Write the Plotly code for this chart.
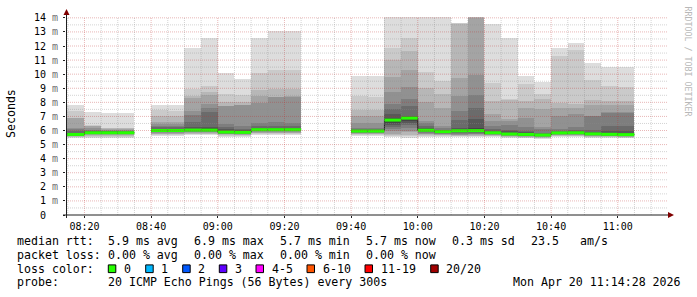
import plotly.graph_objects as go
import pandas as pd

DAY = "2026-04-20"
bin_start = ["08:10", "08:15", "08:20", "08:25", "08:30", "08:40", "08:45", "08:50",
             "08:55", "09:00", "09:05", "09:10", "09:15", "09:20", "09:40", "09:45",
             "09:50", "09:55", "10:00", "10:05", "10:10", "10:15", "10:20", "10:25",
             "10:30", "10:35", "10:40", "10:45", "10:50", "10:55", "11:00"]

# 20 sorted ping RTTs (ms) per 5-minute bin
ping_01 = [5.48, 5.48, 5.50, 5.50, 5.50, 5.62, 5.62, 5.65, 5.65, 5.57, 5.55, 5.68, 5.68, 5.68, 5.62, 5.62, 5.52, 5.47, 5.55, 5.56, 5.54, 5.54, 5.55, 5.50, 5.46, 5.43, 5.53, 5.53, 5.49, 5.47, 5.46]
ping_02 = [5.53, 5.53, 5.56, 5.56, 5.56, 5.68, 5.68, 5.72, 5.72, 5.63, 5.61, 5.75, 5.75, 5.75, 5.68, 5.68, 5.58, 5.58, 5.60, 5.61, 5.58, 5.58, 5.59, 5.53, 5.50, 5.47, 5.58, 5.58, 5.53, 5.51, 5.50]
ping_03 = [5.57, 5.57, 5.62, 5.62, 5.62, 5.73, 5.73, 5.77, 5.77, 5.68, 5.66, 5.80, 5.80, 5.80, 5.73, 5.73, 5.65, 5.70, 5.66, 5.66, 5.62, 5.63, 5.63, 5.57, 5.54, 5.50, 5.62, 5.62, 5.57, 5.55, 5.54]
ping_04 = [5.60, 5.60, 5.68, 5.68, 5.68, 5.78, 5.78, 5.82, 5.82, 5.72, 5.70, 5.85, 5.85, 5.85, 5.78, 5.78, 5.75, 5.87, 5.72, 5.70, 5.66, 5.68, 5.66, 5.60, 5.57, 5.53, 5.66, 5.66, 5.60, 5.58, 5.57]
ping_05 = [5.62, 5.62, 5.72, 5.72, 5.72, 5.82, 5.82, 5.86, 5.86, 5.75, 5.73, 5.89, 5.89, 5.89, 5.82, 5.82, 5.95, 6.00, 5.78, 5.74, 5.70, 5.73, 5.69, 5.63, 5.60, 5.56, 5.69, 5.69, 5.63, 5.61, 5.60]
ping_06 = [5.64, 5.64, 5.75, 5.75, 5.75, 5.86, 5.86, 5.90, 5.90, 5.78, 5.76, 5.93, 5.93, 5.93, 5.85, 5.85, 6.10, 6.20, 5.83, 5.78, 5.75, 5.78, 5.72, 5.65, 5.62, 5.58, 5.72, 5.72, 5.66, 5.63, 5.62]
ping_07 = [5.66, 5.66, 5.78, 5.78, 5.78, 5.90, 5.90, 5.94, 5.94, 5.81, 5.79, 5.96, 5.96, 5.96, 5.88, 5.88, 6.25, 6.41, 5.88, 5.82, 5.80, 5.83, 5.75, 5.67, 5.64, 5.60, 5.75, 5.75, 5.68, 5.65, 5.64]
ping_08 = [5.68, 5.68, 5.80, 5.80, 5.80, 5.93, 5.93, 5.97, 5.97, 5.84, 5.82, 5.99, 5.99, 5.99, 5.91, 5.91, 6.41, 6.55, 5.93, 5.85, 5.86, 5.88, 5.78, 5.69, 5.66, 5.62, 5.77, 5.77, 5.70, 5.67, 5.66]
ping_09 = [5.70, 5.70, 5.82, 5.82, 5.82, 5.96, 5.96, 6.00, 6.00, 5.86, 5.84, 6.02, 6.02, 6.02, 5.93, 5.93, 6.55, 6.70, 5.97, 5.88, 5.92, 5.93, 5.80, 5.71, 5.68, 5.64, 5.79, 5.79, 5.72, 5.69, 5.68]
ping_10 = [5.72, 5.72, 5.84, 5.84, 5.84, 5.99, 5.99, 6.02, 6.02, 5.88, 5.86, 6.05, 6.05, 6.05, 5.95, 5.95, 6.70, 6.85, 6.00, 5.90, 5.96, 5.97, 5.82, 5.73, 5.70, 5.66, 5.81, 5.81, 5.74, 5.71, 5.70]
ping_11 = [5.76, 5.76, 5.87, 5.87, 5.86, 6.03, 6.03, 6.06, 6.07, 5.93, 5.90, 6.08, 6.08, 6.08, 5.97, 5.97, 6.78, 6.90, 6.04, 5.94, 6.00, 6.02, 5.86, 5.79, 5.75, 5.70, 5.85, 5.86, 5.79, 5.78, 5.77]
ping_12 = [5.80, 5.80, 5.90, 5.90, 5.89, 6.07, 6.07, 6.12, 6.15, 6.00, 5.96, 6.12, 6.12, 6.12, 6.00, 6.00, 6.90, 6.95, 6.08, 5.96, 6.05, 6.15, 5.90, 5.85, 5.80, 5.73, 5.88, 5.90, 5.83, 5.85, 5.85]
ping_13 = [5.85, 5.85, 5.93, 5.93, 5.92, 6.12, 6.12, 6.22, 6.27, 6.10, 6.02, 6.20, 6.20, 6.20, 6.04, 6.04, 7.16, 7.04, 6.15, 6.00, 6.20, 6.82, 5.96, 5.94, 5.87, 5.78, 5.92, 5.95, 5.90, 6.00, 6.00]
ping_14 = [5.95, 5.95, 5.98, 5.96, 5.96, 6.22, 6.22, 6.60, 7.28, 6.27, 6.10, 6.34, 6.34, 6.34, 6.10, 6.10, 7.51, 7.75, 6.30, 6.05, 6.75, 7.62, 6.10, 6.05, 5.95, 5.85, 5.98, 6.02, 6.03, 6.34, 6.34]
ping_15 = [6.12, 6.12, 6.05, 6.00, 6.00, 6.30, 6.30, 7.11, 7.58, 6.46, 6.34, 6.50, 6.57, 6.50, 6.20, 6.20, 7.91, 8.22, 6.50, 6.15, 7.40, 8.53, 6.34, 6.38, 6.22, 6.10, 6.10, 6.22, 7.02, 7.26, 7.26]
ping_16 = [6.15, 6.15, 6.15, 6.05, 6.06, 6.45, 6.45, 7.39, 7.87, 7.72, 7.80, 7.98, 8.35, 8.40, 6.55, 6.55, 8.76, 9.08, 6.69, 6.32, 8.43, 9.97, 6.69, 6.65, 6.92, 6.22, 7.04, 7.16, 7.06, 7.28, 7.30]
ping_17 = [6.86, 6.86, 6.30, 6.12, 6.14, 6.60, 6.58, 8.30, 8.52, 7.75, 7.82, 8.45, 8.38, 8.45, 7.02, 7.02, 9.79, 10.33, 8.05, 7.60, 9.70, 14.02, 7.16, 6.81, 7.60, 7.50, 7.60, 7.60, 7.80, 7.82, 7.82]
ping_18 = [6.88, 6.88, 6.34, 6.17, 6.18, 7.05, 7.04, 8.45, 8.75, 8.05, 8.05, 8.85, 8.92, 8.92, 7.49, 7.49, 11.03, 11.62, 8.99, 8.57, 13.58, 14.04, 8.10, 8.20, 8.10, 8.21, 7.98, 7.91, 8.14, 8.10, 8.10]
ping_19 = [7.39, 7.39, 6.36, 6.19, 6.20, 7.45, 7.42, 8.92, 9.15, 8.57, 8.52, 10.09, 10.33, 10.33, 8.43, 8.40, 11.85, 12.56, 10.19, 9.50, 13.62, 14.06, 9.39, 8.25, 9.27, 8.60, 11.27, 11.74, 9.58, 9.15, 9.12]
ping_20 = [7.82, 7.82, 7.32, 7.23, 7.25, 7.82, 7.82, 11.85, 12.60, 10.10, 9.67, 12.60, 13.08, 13.08, 9.85, 9.85, 14.08, 14.08, 14.08, 14.08, 13.65, 14.08, 13.57, 12.56, 9.88, 9.45, 11.85, 12.21, 10.78, 10.52, 10.50]
median_rtt = [5.72, 5.72, 5.84, 5.84, 5.84, 6.00, 6.00, 6.03, 6.03, 5.89, 5.87, 6.06, 6.06, 6.06, 5.96, 5.96, 6.74, 6.88, 6.02, 5.92, 5.98, 5.99, 5.84, 5.75, 5.72, 5.68, 5.83, 5.84, 5.76, 5.73, 5.71]

y_tick_vals = list(range(0, 15))
y_tick_text = ["0\u00a0\u00a0"] + [f"{v} <span style='color:#707070'>m</span>" for v in range(1, 15)]

loss_labels = ["0", "1", "2", "3", "4-5", "6-10", "11-19", "20/20"]
loss_colors = ["#26ff00", "#00b8ff", "#0059ff", "#5e00ff", "#ff00ff", "#ff5500", "#ff0000", "#a10000"]

pings = [ping_01, ping_02, ping_03, ping_04, ping_05, ping_06, ping_07, ping_08, ping_09, ping_10,
         ping_11, ping_12, ping_13, ping_14, ping_15, ping_16, ping_17, ping_18, ping_19, ping_20]

STEP = pd.Timedelta(minutes=5)
starts = pd.to_datetime([f"{DAY} {t}" for t in bin_start])
centers = starts + STEP / 2
ends = starts + STEP

fig = go.Figure()
half = 10
for k in range(1, half + 1):
    lo = pings[k - 1]
    hi = pings[20 - k]
    g = int(190 / half * (half - k)) + 50
    col = f"rgb({g},{g},{g})"
    fig.add_trace(go.Bar(x=centers, y=[h - l for h, l in zip(hi, lo)], base=lo,
                         width=STEP.total_seconds() * 1000, marker=dict(color=col, line=dict(width=0)),
                         hoverinfo="skip"))

# median step line (dark) and green loss-colored segments
dx, dy, gx, gy = [], [], [], []
for i in range(len(starts)):
    if i > 0 and starts[i] != ends[i - 1]:
        dx.append(None); dy.append(None)
    dx += [starts[i], ends[i]]; dy += [median_rtt[i], median_rtt[i]]
    gx += [starts[i], ends[i], None]; gy += [median_rtt[i], median_rtt[i], None]
fig.add_trace(go.Scatter(x=dx, y=dy, mode="lines", line=dict(color="#202020", width=1), hoverinfo="skip"))
fig.add_trace(go.Scatter(x=gx, y=gy, mode="lines", line=dict(color=loss_colors[0], width=3), hoverinfo="skip"))

X0, PW, Y0, PH = 66, 600, 215, 200
def px(x):
    return (x - X0) / PW
def py(y):
    return (Y0 - y) / PH

MAJOR_GRID = "rgba(190,50,50,0.35)"
MINOR_GRID = "rgba(140,140,140,0.38)"
shapes = []
# grid (drawn above the smoke, like rrdtool)
t = pd.Timestamp(f"{DAY} 08:15")
tend = pd.Timestamp(f"{DAY} 11:14")
while t <= tend:
    major = t.minute % 20 == 0
    shapes.append(dict(type="line", xref="x", yref="paper", x0=t, x1=t, y0=0, y1=1, layer="above",
                       line=dict(color=MAJOR_GRID if major else MINOR_GRID, width=1, dash="1px,1px")))
    t += STEP
for j in range(1, 29):
    v = j * 0.5
    major = j % 2 == 0
    shapes.append(dict(type="line", xref="paper", yref="y", x0=0, x1=px(668), y0=v, y1=v, layer="above",
                       line=dict(color=MAJOR_GRID if major else MINOR_GRID, width=1, dash="1px,1px")))
# axes
shapes.append(dict(type="line", xref="paper", yref="paper", x0=px(66.5), x1=px(66.5), y0=py(218), y1=py(10),
                   line=dict(color="#202020", width=1), layer="above"))
shapes.append(dict(type="line", xref="paper", yref="paper", x0=px(63), x1=px(670), y0=py(215), y1=py(215),
                   line=dict(color="#202020", width=1), layer="above"))
# arrows
shapes.append(dict(type="path", xref="paper", yref="paper", layer="above",
                   path=f"M {px(66.5)},{py(7)} L {px(63.5)},{py(13)} L {px(69.5)},{py(13)} Z",
                   fillcolor="#800000", line=dict(width=0)))
shapes.append(dict(type="path", xref="paper", yref="paper", layer="above",
                   path=f"M {px(674)},{py(215)} L {px(668)},{py(212)} L {px(668)},{py(218)} Z",
                   fillcolor="#800000", line=dict(width=0)))
# loss color boxes
box_x = [108.3, 145.7, 182.7, 219.3, 256, 307, 365, 430.7]
for bx, c in zip(box_x, loss_colors):
    shapes.append(dict(type="rect", xref="paper", yref="paper", x0=px(bx), x1=px(bx + 7.5),
                       y0=py(273.2), y1=py(265.4), fillcolor=c, line=dict(color="black", width=1)))

MONO = "DejaVu Sans Mono"
annotations = []
def txt(x, y, s, size=11.6, color="black", angle=0, xanchor="left"):
    annotations.append(dict(x=px(x), y=py(y), xref="paper", yref="paper", text=s, showarrow=False,
                            xanchor=xanchor, yanchor="middle", textangle=angle, borderpad=0,
                            font=dict(family=MONO, size=size, color=color)))

txt(11, 113, "Seconds", angle=-90, xanchor="center")
txt(688, 60, "RRDTOOL / TOBI OETIKER", size=8.3, color="#b8b8b8", angle=90, xanchor="center")

r1, r2, r3, r4 = 241.7, 255.3, 269.3, 283
txt(15.5, r1, "median rtt:")
for x, s in zip([106.5, 192.8, 278.8, 365.2, 450.5, 530.2, 578.8],
                ["5.9 ms avg", "6.9 ms max", "5.7 ms min", "5.7 ms now", "0.3 ms sd", "23.5", "am/s"]):
    txt(x, r1, s)
txt(15.5, r2, "packet loss:")
for x, s in zip([106.5, 192.8, 278.8, 365.2], ["0.00 % avg", "0.00 % max", "0.00 % min", "0.00 % now"]):
    txt(x, r2, s)
txt(15.5, r3, "loss color:")
for bx, s in zip(box_x, loss_labels):
    txt(bx + 14.5, r3, s)
txt(15.5, r4, "probe:")
txt(106.5, r4, "20 ICMP Echo Pings (56 Bytes) every 300s")
txt(512.2, r4, "Mon Apr 20 11:14:28 2026")

fig.update_layout(
    width=697, height=297,
    margin=dict(l=X0, r=697 - X0 - PW, t=Y0 - PH, b=297 - Y0, pad=0),
    paper_bgcolor="white", plot_bgcolor="white",
    barmode="overlay", bargap=0, showlegend=False,
    shapes=shapes, annotations=annotations,
    xaxis=dict(type="date", range=[f"{DAY} 08:14:28", f"{DAY} 11:14:28"],
               showgrid=False, zeroline=False, showline=False,
               tick0=f"{DAY} 08:20:00", dtick=20 * 60 * 1000, tickformat="%H:%M",
               ticks="outside", ticklen=2, tickcolor="#202020",
               tickfont=dict(family=MONO, size=10, color="black")),
    yaxis=dict(range=[0, 14.06], showgrid=False, zeroline=False, showline=False,
               tickvals=y_tick_vals, ticktext=y_tick_text,
               ticks="outside", ticklen=2, tickcolor="#202020", ticklabelstandoff=3,
               tickfont=dict(family=MONO, size=10, color="black")),
)

fig.write_html("out.html")
